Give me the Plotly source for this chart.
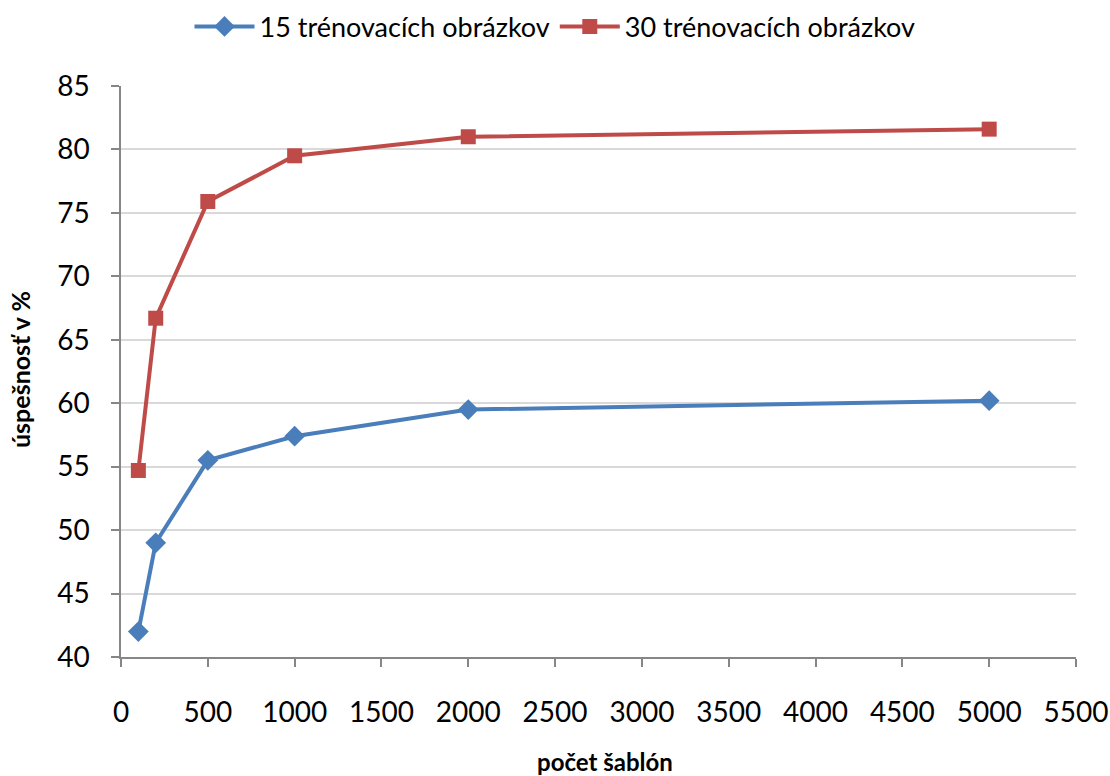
import plotly.graph_objects as go

# Number of templates and recognition accuracy (%) for each training-set size
templates = [100, 200, 500, 1000, 2000, 5000]
acc_15 = [42.0, 49.0, 55.5, 57.4, 59.5, 60.2]
acc_30 = [54.7, 66.7, 75.9, 79.5, 81.0, 81.6]

name_15 = "15 trénovacích obrázkov"
name_30 = "30 trénovacích obrázkov"

x_ticks = list(range(0, 5501, 500))
y_ticks = list(range(40, 86, 5))

x_title = "počet šablón"
y_title = "úspešnosť v %"

FONT = "Lato, Open Sans, sans-serif"
AXIS_GREY = "#868686"
W, H = 1110, 776

fig = go.Figure()
fig.add_trace(go.Scatter(
    x=templates, y=acc_15, name=name_15, mode="lines+markers",
    line=dict(color="#4a7ebb", width=4),
    marker=dict(symbol="diamond", size=16, color="#4a7ebb"),
))
fig.add_trace(go.Scatter(
    x=templates, y=acc_30, name=name_30, mode="lines+markers",
    line=dict(color="#be4b48", width=4),
    marker=dict(symbol="square", size=15, color="#be4b48"),
))

fig.update_layout(
    width=W, height=H,
    margin=dict(l=121, r=34, t=86, b=119, autoexpand=False),
    paper_bgcolor="white", plot_bgcolor="white",
    font=dict(family=FONT, color="#000000", size=28),
    legend=dict(
        orientation="h", x=0.5, xanchor="center", xref="container",
        y=0.997, yanchor="top", yref="container",
        font=dict(size=27), itemwidth=60,
    ),
    showlegend=True,
)

fig.update_xaxes(
    range=[0, 5500], tickvals=x_ticks, ticktext=[str(v) for v in x_ticks],
    showgrid=False, zeroline=False, automargin=False,
    showline=True, linecolor=AXIS_GREY, linewidth=1.5,
    ticks="outside", ticklen=8, tickcolor=AXIS_GREY, tickwidth=1.5,
    ticklabelstandoff=22, tickfont=dict(size=28),
)
fig.update_yaxes(
    range=[40, 85], tickvals=y_ticks, ticktext=[str(v) for v in y_ticks],
    showgrid=True, gridcolor="#d9d9d9", gridwidth=1.5, zeroline=False,
    automargin=False,
    showline=True, linecolor=AXIS_GREY, linewidth=1.5,
    ticks="outside", ticklen=8, tickcolor=AXIS_GREY, tickwidth=1.5,
    ticklabelstandoff=16, tickfont=dict(size=28),
)

# Axis titles placed in paper pixels below and left of the plot area
plot_top, plot_bottom = 86, H - 119
plot_left, plot_right = 121, W - 34
fig.add_annotation(
    text=f"<b>{x_title}</b>", showarrow=False,
    xref="paper", x=(605 - plot_left) / (plot_right - plot_left),
    yref="paper", y=-(778 - plot_bottom) / (plot_bottom - plot_top),
    xanchor="center", yanchor="bottom", font=dict(size=24),
)
fig.add_annotation(
    text=f"<b>{y_title}</b>", showarrow=False, textangle=-90,
    xref="paper", x=-(plot_left - 20) / (plot_right - plot_left),
    yref="paper", y=(plot_bottom - 370) / (plot_bottom - plot_top),
    xanchor="center", yanchor="middle", font=dict(size=25),
)

fig.write_html("out.html")
